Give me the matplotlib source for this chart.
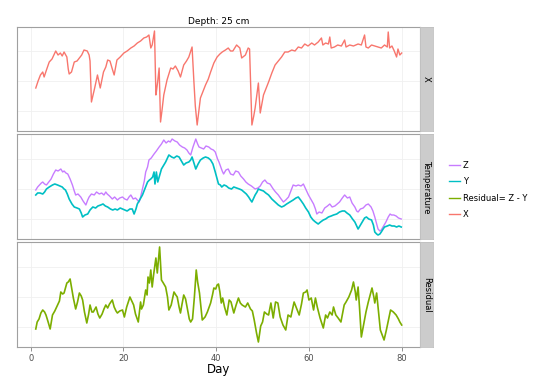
import numpy as np
import matplotlib
matplotlib.use("Agg")
import matplotlib.pyplot as plt
from matplotlib.lines import Line2D

# (day, value) readings for each series; y units are arbitrary (no y labels in the chart)
x_pts = [(1.1, 43), (1.6, 50), (2.1, 56), (2.6, 59), (2.9, 54), (3.4, 61), (4.0, 69), (4.6, 72),
         (5.0, 76), (5.4, 80), (5.9, 76), (6.4, 78), (6.8, 75), (7.2, 79), (7.8, 74), (8.1, 62),
         (8.3, 57), (8.8, 59), (9.4, 69), (10.0, 70), (10.5, 73), (11.0, 76), (11.5, 81), (12.2, 80),
         (12.6, 76), (12.8, 70), (13.1, 29), (13.8, 43), (14.4, 56), (15.0, 43), (15.7, 59), (16.2, 64),
         (16.6, 71), (17.1, 70), (17.6, 62), (18.0, 56), (18.6, 71), (19.3, 74), (20.1, 78), (20.8, 80),
         (21.6, 83), (22.3, 85), (23.0, 88), (23.7, 90), (24.4, 93), (25.0, 94), (25.5, 96), (25.9, 83),
         (26.2, 86), (26.7, 100), (27.0, 36), (27.1, 39), (27.4, 50), (27.7, 63), (28.0, 9), (28.3, 20),
         (28.7, 36), (29.4, 51), (30.2, 63), (30.7, 62), (31.2, 65), (31.8, 60), (32.3, 54), (33.0, 66),
         (33.6, 70), (34.1, 74), (34.8, 84), (35.2, 49), (35.5, 25), (35.9, 6), (36.6, 33), (37.2, 40),
         (37.7, 46), (38.3, 52), (38.8, 59), (39.5, 68), (40.2, 74), (40.8, 77), (41.3, 79), (42.0, 81),
         (42.6, 83), (43.1, 80), (43.6, 80), (44.4, 86), (45.1, 83), (45.5, 73), (46.3, 76), (46.9, 83),
         (47.2, 82), (47.7, 6), (48.1, 15), (48.4, 23), (49.1, 48), (49.5, 18), (50.2, 36), (50.7, 42),
         (51.3, 49), (52.0, 58), (52.7, 66), (53.4, 70), (54.1, 74), (54.8, 79), (55.5, 79), (56.3, 81),
         (57.0, 80), (57.7, 84), (58.4, 83), (59.1, 87), (59.8, 85), (60.6, 88), (61.2, 86), (62.0, 89),
         (62.7, 93), (63.0, 86), (63.6, 88), (64.2, 87), (64.5, 94), (64.8, 83), (65.5, 84), (66.2, 86),
         (67.0, 85), (67.7, 91), (68.0, 84), (68.8, 86), (69.6, 85), (70.6, 87), (71.3, 86), (72.0, 96),
         (72.3, 84), (72.8, 83), (73.5, 86), (74.2, 85), (74.9, 84), (75.6, 83), (76.3, 86), (76.9, 84),
         (77.1, 99), (77.4, 83), (77.9, 85), (78.4, 80), (78.9, 74), (79.2, 82), (79.6, 76), (80.0, 78)]

z_pts = [(1.1, 49), (1.5, 52), (1.9, 54), (2.3, 56), (2.6, 57), (3.0, 55), (3.4, 54), (3.9, 57),
         (4.4, 60), (4.9, 65), (5.4, 69), (5.9, 68), (6.5, 70), (6.9, 67), (7.2, 68), (7.6, 66),
         (8.0, 65), (8.5, 60), (9.0, 54), (9.4, 48), (9.7, 44), (10.2, 45), (10.8, 42), (11.3, 38),
         (11.9, 34), (12.3, 39), (12.6, 42), (13.1, 45), (13.7, 44), (14.2, 47), (14.8, 45), (15.3, 46),
         (15.8, 44), (16.2, 47), (16.5, 45), (17.0, 43), (17.6, 40), (18.1, 42), (18.7, 39), (19.2, 41),
         (19.8, 42), (20.3, 40), (20.8, 39), (21.2, 42), (21.6, 44), (22.1, 40), (22.6, 41), (23.0, 39),
         (23.4, 37), (23.7, 42), (24.1, 50), (24.5, 58), (24.8, 67), (25.2, 72), (25.5, 79), (26.0, 81),
         (26.6, 85), (27.1, 88), (27.7, 92), (28.2, 95), (28.7, 99), (29.2, 96), (29.7, 98), (30.1, 97),
         (30.5, 100), (31.1, 98), (31.6, 97), (32.1, 94), (32.7, 92), (33.2, 91), (33.7, 89), (34.1, 86),
         (34.5, 84), (35.0, 92), (35.6, 100), (36.0, 95), (36.3, 92), (36.8, 91), (37.3, 90), (37.8, 93),
         (38.4, 92), (38.9, 90), (39.4, 89), (39.8, 87), (40.3, 80), (40.6, 77), (41.0, 72), (41.3, 68),
         (41.6, 65), (42.1, 69), (42.6, 70), (43.1, 65), (43.7, 64), (44.2, 68), (44.8, 67), (45.3, 63),
         (45.9, 60), (46.4, 57), (46.9, 55), (47.6, 53), (48.4, 50), (49.0, 51), (49.5, 53), (50.0, 57),
         (50.5, 59), (51.0, 56), (51.6, 55), (52.3, 50), (52.8, 47), (53.4, 44), (54.0, 40), (54.5, 37),
         (55.0, 39), (55.6, 42), (56.1, 48), (56.6, 54), (57.2, 53), (57.7, 54), (58.3, 53), (58.8, 55),
         (59.3, 50), (59.9, 44), (60.4, 40), (61.0, 35), (61.4, 30), (61.7, 25), (62.2, 27), (62.8, 26),
         (63.4, 31), (64.0, 33), (64.5, 35), (65.0, 32), (65.6, 33), (66.1, 35), (66.6, 37), (67.2, 41),
         (67.7, 44), (68.3, 41), (68.8, 42), (69.3, 36), (69.9, 32), (70.3, 28), (70.6, 27), (71.1, 30),
         (71.7, 31), (72.3, 34), (72.8, 35), (73.4, 32), (73.8, 28), (74.2, 22), (74.6, 15), (74.9, 10),
         (75.3, 8), (75.6, 9), (76.1, 13), (76.6, 17), (77.1, 22), (77.5, 25), (77.8, 24), (78.3, 24),
         (78.8, 23), (79.3, 21), (79.9, 20)]

y_pts = [(1.1, 44), (1.5, 46), (2.0, 46), (2.6, 45), (3.0, 47), (3.4, 50), (4.0, 52), (4.7, 54),
         (5.2, 55), (5.8, 54), (6.3, 53), (6.8, 52), (7.2, 50), (7.5, 49), (7.9, 45), (8.3, 40),
         (8.9, 35), (9.4, 32), (10.0, 31), (10.5, 30), (10.9, 26), (11.2, 22), (11.7, 24), (12.3, 25),
         (12.8, 29), (13.4, 32), (14.0, 31), (14.5, 33), (15.1, 34), (15.6, 35), (16.1, 33), (16.6, 32),
         (17.2, 30), (17.7, 29), (18.2, 30), (18.7, 29), (19.3, 31), (19.8, 30), (20.3, 29), (20.8, 28),
         (21.4, 30), (21.9, 30), (22.3, 25), (22.7, 30), (23.0, 35), (23.5, 39), (24.1, 44), (24.6, 50),
         (25.2, 57), (25.6, 59), (25.9, 60), (26.3, 62), (26.6, 67), (26.8, 55), (27.1, 67), (27.4, 57),
         (27.7, 62), (28.2, 70), (28.7, 74), (29.1, 77), (29.5, 81), (29.8, 84), (30.4, 82), (30.9, 81),
         (31.5, 83), (32.0, 82), (32.5, 78), (33.0, 74), (33.5, 76), (34.1, 77), (34.5, 79), (34.8, 82),
         (35.2, 76), (35.6, 70), (36.1, 75), (36.6, 79), (37.2, 81), (37.7, 82), (38.3, 81), (38.8, 79),
         (39.3, 75), (39.8, 67), (40.2, 60), (40.5, 55), (40.9, 54), (41.2, 52), (41.7, 54), (42.2, 53),
         (42.7, 51), (43.3, 50), (43.8, 52), (44.4, 51), (45.0, 50), (45.5, 49), (46.0, 47), (46.5, 45),
         (47.0, 42), (47.4, 39), (47.7, 37), (48.0, 40), (48.4, 44), (48.8, 47), (49.1, 50), (49.6, 49),
         (50.2, 48), (50.7, 46), (51.3, 44), (52.0, 40), (52.7, 37), (53.4, 34), (54.1, 32), (54.6, 33),
         (55.2, 35), (55.9, 37), (56.6, 39), (57.2, 41), (57.7, 42), (58.2, 39), (58.8, 35), (59.3, 31),
         (59.9, 27), (60.4, 22), (60.9, 19), (61.4, 17), (62.0, 15), (62.5, 17), (63.1, 19), (63.6, 20),
         (64.2, 22), (64.8, 23), (65.3, 24), (66.0, 25), (66.6, 27), (67.2, 28), (67.7, 28), (68.2, 26),
         (68.8, 24), (69.4, 20), (69.9, 17), (70.3, 13), (70.6, 10), (71.1, 14), (71.7, 19), (72.0, 21),
         (72.4, 22), (72.9, 20), (73.5, 19), (73.9, 14), (74.2, 7), (74.6, 5), (74.9, 4), (75.3, 5),
         (75.6, 7), (76.0, 10), (76.3, 12), (76.9, 13), (77.4, 14), (77.9, 13), (78.4, 13), (78.9, 12),
         (79.4, 13), (79.9, 12)]

res_pts = [(1.1, 18), (1.4, 25), (1.8, 28), (2.2, 34), (2.6, 37), (3.0, 35), (3.3, 32), (3.7, 26),
           (4.2, 18), (4.7, 32), (5.2, 36), (5.8, 42), (6.2, 46), (6.5, 55), (6.9, 53), (7.2, 54),
           (7.8, 64), (8.1, 65), (8.5, 68), (8.8, 60), (9.2, 49), (9.7, 38), (10.1, 45), (10.5, 54),
           (10.9, 51), (11.2, 47), (11.6, 35), (12.1, 24), (12.5, 33), (12.8, 42), (13.2, 35), (13.5, 35),
           (14.1, 40), (14.5, 33), (14.9, 29), (15.4, 33), (15.8, 38), (16.2, 42), (16.6, 39), (17.0, 43),
           (17.6, 47), (18.0, 40), (18.4, 36), (18.7, 34), (19.2, 36), (19.8, 37), (20.2, 30), (20.7, 40),
           (21.4, 50), (21.8, 46), (22.2, 42), (22.6, 33), (23.2, 25), (23.7, 45), (23.9, 38), (24.3, 42),
           (24.8, 57), (25.1, 52), (25.3, 70), (25.6, 64), (25.9, 77), (26.2, 60), (26.5, 72), (27.0, 89),
           (27.3, 74), (27.8, 100), (28.2, 67), (28.6, 64), (29.1, 60), (29.5, 50), (29.8, 37), (30.3, 42),
           (30.9, 55), (31.3, 52), (31.6, 50), (32.0, 40), (32.3, 34), (32.6, 42), (33.0, 52), (33.4, 48),
           (33.8, 38), (34.2, 28), (34.5, 25), (34.9, 28), (35.3, 50), (35.7, 77), (36.0, 65), (36.4, 54),
           (37.0, 27), (37.6, 30), (38.1, 35), (38.5, 40), (38.8, 44), (39.2, 52), (39.5, 59), (39.9, 58),
           (40.2, 62), (40.5, 63), (40.8, 55), (41.1, 44), (41.4, 49), (41.8, 40), (42.3, 32), (42.8, 47),
           (43.2, 45), (43.8, 34), (44.3, 42), (44.8, 49), (45.2, 44), (45.6, 42), (46.3, 40), (46.8, 44),
           (47.4, 38), (47.8, 36), (48.2, 27), (48.7, 14), (49.1, 5), (49.6, 21), (50.0, 25), (50.4, 35),
           (50.9, 33), (51.3, 32), (51.8, 44), (52.3, 29), (52.8, 45), (53.3, 44), (53.8, 30), (54.4, 22),
           (55.0, 17), (55.5, 32), (56.1, 30), (56.8, 45), (57.3, 39), (57.9, 32), (58.4, 43), (58.8, 54),
           (59.3, 55), (59.6, 57), (60.0, 47), (60.5, 49), (61.0, 37), (61.4, 49), (61.8, 40), (62.4, 29),
           (63.1, 19), (63.6, 32), (64.0, 29), (64.5, 35), (65.0, 32), (65.3, 40), (65.8, 32), (66.3, 29),
           (66.9, 25), (67.6, 42), (68.0, 45), (68.6, 50), (69.2, 57), (69.6, 65), (70.0, 55), (70.2, 47),
           (70.6, 60), (70.9, 40), (71.3, 10), (71.7, 20), (72.3, 35), (72.8, 45), (73.2, 52), (73.6, 59),
           (74.0, 50), (74.2, 44), (74.6, 54), (75.0, 35), (75.4, 17), (76.2, 7), (76.7, 17), (77.2, 28),
           (77.6, 37), (78.2, 35), (78.8, 32), (79.3, 28), (79.6, 25), (80.0, 22)]

series_labels = ["Z", "Y", "Residual= Z - Y", "X"]
series_colors = ["#C77CFF", "#00BFC4", "#7CAE00", "#F8766D"]
facet_labels = ["X", "Temperature", "Residual"]
x_ticks = [0, 20, 40, 60, 80]

W, H = 540, 379
fig = plt.figure(figsize=(W / 100, H / 100), dpi=100)

# panel boxes in pixels: (top, bottom)
panels = [(27, 131), (134, 239), (242, 347)]
left, right = 17, 420
strip_w = 13

axes = []
for i, (top, bot) in enumerate(panels):
    ax = fig.add_axes([left / W, 1 - bot / H, (right - left) / W, (bot - top) / H])
    ax.set_xlim(-2.95, 83.95)
    ax.set_ylim(0, bot - top)
    ax.set_facecolor("white")
    for s in ax.spines.values():
        s.set_color("#a0a0a0")
        s.set_linewidth(0.8)
    ax.set_yticks([20, 50, 80])
    ax.set_xticks(x_ticks)
    ax.grid(True, color="#f0f0f0", linewidth=0.6)
    ax.tick_params(axis="y", left=False, labelleft=False)
    if i < 2:
        ax.tick_params(axis="x", bottom=False, labelbottom=False)
    else:
        ax.tick_params(axis="x", length=3, width=0.6, color="#808080",
                       labelsize=6, labelcolor="#4d4d4d", pad=2)
    # facet strip
    sax = fig.add_axes([right / W, 1 - bot / H, strip_w / W, (bot - top) / H])
    sax.set_facecolor("#cccccc")
    sax.set_xticks([])
    sax.set_yticks([])
    for s in sax.spines.values():
        s.set_color("#bfbfbf")
        s.set_linewidth(0.6)
    sax.text(0.5, 0.5, facet_labels[i], rotation=-90, ha="center", va="center",
             fontsize=6, transform=sax.transAxes)
    axes.append(ax)

lw = 1.0
d, v = np.array(x_pts).T
axes[0].plot(d, v, color=series_colors[3], lw=lw)
d, v = np.array(z_pts).T
axes[1].plot(d, v, color=series_colors[0], lw=lw)
d, v = np.array(y_pts).T
axes[1].plot(d, v, color=series_colors[1], lw=lw * 1.2)
d, v = np.array(res_pts).T
axes[2].plot(d, v, color=series_colors[2], lw=lw * 1.2)

axes[0].set_title("Depth: 25 cm", fontsize=6.5, pad=2)
axes[2].set_xlabel("Day", fontsize=8.5, labelpad=0)

handles = [Line2D([], [], color=c, lw=1.0) for c in series_colors]
fig.legend(handles, series_labels, loc="center left",
           bbox_to_anchor=(441 / W, 1 - 190 / H), frameon=False, fontsize=6,
           handlelength=1.4, labelspacing=0.9, handletextpad=0.3)

fig.savefig("out.png", dpi=100)
